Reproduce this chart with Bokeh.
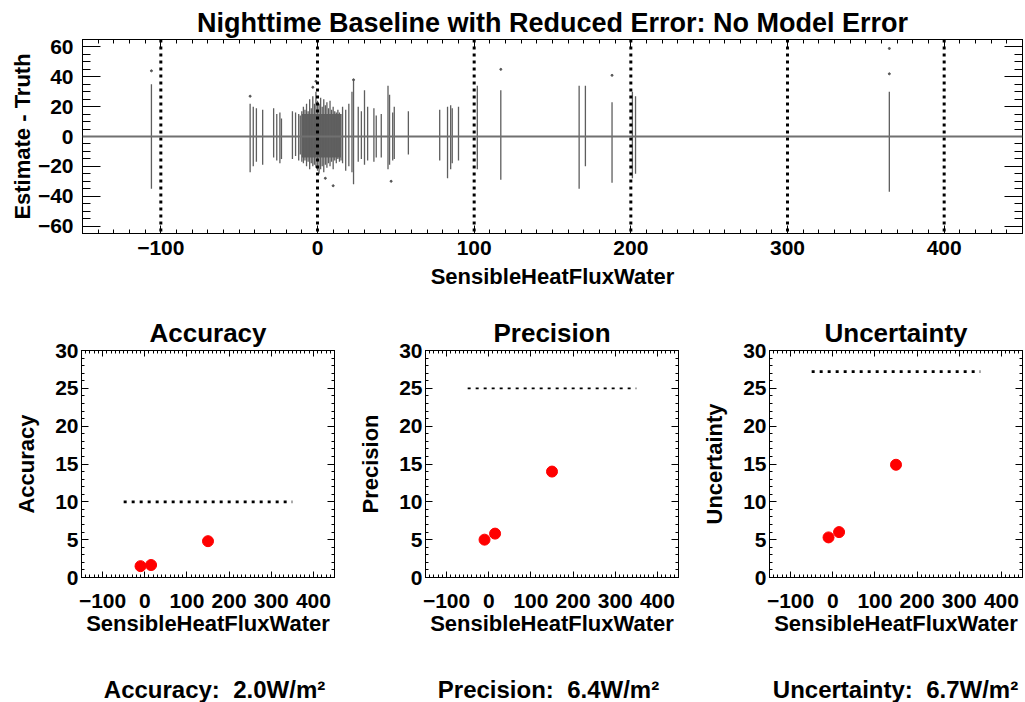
from bokeh.plotting import figure
from bokeh.layouts import column, row
from bokeh.models import LinearAxis, Span, SingleIntervalTicker, CustomLabelingPolicy
from bokeh.core.properties import value
from bokeh.embed import file_html
from bokeh.resources import INLINE

# ---------------- data ----------------
TITLE = "Nighttime Baseline with Reduced Error: No Model Error"
X_LABEL = "SensibleHeatFluxWater"
Y_LABEL_TOP = "Estimate - Truth"

# vertical strips of (estimate - truth) residuals at each flux value
strip_x = [-106, -43, -41, -39, -35, -28, -26, -24, -23, -16, -14, -12, -11,
           -10, -9, -8, -7, -6, -5, -4, -3, -2, -1, 0, 1, 2, 3, 4, 5, 6, 7, 8,
           9, 10, 11, 12, 13, 14, 15, 16, 18, 20, 22, 23, 26, 28, 30, 32, 36,
           37.5, 40.7, 45, 46, 48, 49, 58, 78, 83, 85, 86, 90, 102, 117, 167,
           171, 188, 201, 203, 365]
strip_lo = [-35, -24, -20, -17, -19, -14, -16, -18, -15, -15, -13, -16, -12,
            -17, -18, -16, -20, -17, -22, -18, -20, -19, -21, -23, -25, -22, -20, -24, -19, -21, -18, -20,
            -17, -22, -16, -18, -15, -17, -16, -18, -23, -20, -24, -32, -17, -15, -19, -16, -17,
            -14, -14, -22, -19, -16, -15, -12, -16, -28, -22, -18, -16, -22, -29, -35,
            -20, -31, -28, -25, -37]
strip_hi = [35, 22, 20, 19, 18, 19, 15, 16, 12, 17, 16, 15, 14,
            17, 20, 18, 22, 17, 25, 19, 27, 22, 30, 24, 22, 26, 20, 25, 21, 23, 19, 24,
            18, 20, 17, 16, 18, 16, 15, 20, 18, 22, 30, 38, 20, 17, 31, 20, 19,
            14, 15, 34, 28, 16, 20, 17, 18, 20, 21, 19, 20, 34, 31, 34,
            34, 23, 30, 27, 30]
core_left = [-10]
core_right = [15]
core_bottom = [-14]
core_top = [15]
outlier_x = [-106, -43, -1, -3, 23, 117, 188, 365, 365, 47, 10, 5]
outlier_y = [44, 27, 37, 33, 38, 45, 41, 42, 59, -30, -33, -28]
ref_lines_x = [-100, 0, 100, 200, 300, 400]

bin_x = [-10, 15, 150]
accuracy = [1.5, 1.65, 4.8]
precision = [5.0, 5.8, 14.0]
uncertainty = [5.3, 6.0, 14.9]
req_x0 = [-50]
req_x1 = [350]
acc_req = [10.0]
prec_req = [25.0]
unc_req = [27.2]
panel_names = ["Accuracy", "Precision", "Uncertainty"]
summary_values = [2.0, 6.4, 6.7]

FONT = "Liberation Sans"
NO_LABELS = CustomLabelingPolicy(code="return []")


def style_axis(ax, tick_in, minor_in, label_px="21px", standoff=8):
    ax.major_tick_in = tick_in
    ax.major_tick_out = 0
    ax.minor_tick_in = minor_in
    ax.minor_tick_out = 0
    ax.axis_line_color = "black"
    ax.major_tick_line_color = "black"
    ax.minor_tick_line_color = "black"
    ax.major_label_text_font = FONT
    ax.major_label_text_font_style = "bold"
    ax.major_label_text_font_size = label_px
    ax.major_label_text_color = "black"
    ax.major_label_standoff = standoff
    ax.axis_label_text_font = FONT
    ax.axis_label_text_font_style = "bold"
    ax.axis_label_text_font_size = "22px"
    ax.axis_label_text_color = "black"


def mirror(p, side, interval, minors, tick_in, minor_in):
    ax = LinearAxis(ticker=SingleIntervalTicker(interval=interval, num_minor_ticks=minors))
    style_axis(ax, tick_in, minor_in, label_px="0px", standoff=0)
    ax.major_label_policy = NO_LABELS
    p.add_layout(ax, side)


def style_title(p, size, standoff):
    p.title.align = "center"
    p.title.text_font = FONT
    p.title.text_font_style = "bold"
    p.title.text_font_size = size
    p.title.text_color = "black"
    p.title.standoff = standoff


# ---------------- top plot ----------------
top = figure(width=1025, height=298, x_range=(-150, 450), y_range=(-65, 65),
             title=TITLE, output_backend="svg", toolbar_location=None,
             min_border_left=82, min_border_right=3, min_border_top=39,
             min_border_bottom=65)
style_title(top, "27px", 4)
top.grid.visible = False
top.outline_line_color = "black"
top.xaxis.ticker = SingleIntervalTicker(interval=100, num_minor_ticks=10)
top.yaxis.ticker = SingleIntervalTicker(interval=20, num_minor_ticks=4)
style_axis(top.xaxis[0], 8, 4, standoff=7)
style_axis(top.yaxis[0], 18, 8, standoff=9)
top.xaxis.axis_label = X_LABEL
top.xaxis.axis_label_standoff = 6
top.yaxis.axis_label = Y_LABEL_TOP
top.yaxis.axis_label_standoff = 0
mirror(top, "above", 100, 10, 8, 4)
mirror(top, "right", 20, 4, 18, 8)

top.quad(left=core_left, right=core_right, bottom=core_bottom, top=core_top,
         fill_color="#666666", line_color=None)
top.segment(x0=strip_x, y0=strip_lo, x1=strip_x, y1=strip_hi,
            line_color="#5e5e5e", line_width=1.3)
top.scatter(outlier_x, outlier_y, size=2, color="#555555")
for v in ref_lines_x:
    top.add_layout(Span(location=v, dimension="height", line_color="black",
                        line_width=3, line_dash="3 4"))
top.add_layout(Span(location=0, dimension="width", line_color="#707070", line_width=2))


# ---------------- bottom panels ----------------
def make_panel(name, vals, req, width, dash_w):
    p = figure(width=width, height=340, x_range=(-150, 450), y_range=(0, 30),
               title=name, output_backend="svg", toolbar_location=None,
               min_border_left=81, min_border_right=width - 81 - 253,
               min_border_top=52, min_border_bottom=60)
    style_title(p, "26px", 6)
    p.grid.visible = False
    p.outline_line_color = "black"
    p.xaxis.ticker = SingleIntervalTicker(interval=100, num_minor_ticks=10)
    p.yaxis.ticker = SingleIntervalTicker(interval=5, num_minor_ticks=5)
    style_axis(p.xaxis[0], 6, 3, standoff=16)
    style_axis(p.yaxis[0], 7, 3, standoff=3)
    p.xaxis.axis_label = X_LABEL
    p.xaxis.axis_label_standoff = 0
    p.yaxis.axis_label = name
    p.yaxis.axis_label_standoff = 13
    mirror(p, "above", 100, 10, 6, 3)
    mirror(p, "right", 5, 5, 7, 3)
    p.segment(x0=req_x0, y0=req, x1=req_x1, y1=req, line_color="black",
              line_width=dash_w, line_dash="3 5")
    p.scatter(bin_x, vals, size=11, color="red")
    return p


def make_footer(name, val, width, cx):
    f = figure(width=width, height=64, x_range=(0, width), y_range=(0, 64),
               title=None, output_backend="svg", toolbar_location=None,
               x_axis_location=None, y_axis_location=None, min_border=0)
    f.grid.visible = False
    f.outline_line_color = None
    f.text(x=[cx], y=[13], text=[f"{name}:\u00a0 {val:.1f}W/m\u00b2"],
           text_font=value(FONT), text_font_style="bold",
           text_font_size=value("24px"), text_align="center",
           text_baseline="middle", text_color="black")
    return f


p1 = make_panel("Accuracy", accuracy, acc_req, 344, 2.6)
p2 = make_panel("Precision", precision, prec_req, 344, 1.8)
p3 = make_panel("Uncertainty", uncertainty, unc_req, 337, 2.8)

f1 = make_footer(panel_names[0], summary_values[0], 344, 214)
f2 = make_footer(panel_names[1], summary_values[1], 344, 204)
f3 = make_footer(panel_names[2], summary_values[2], 337, 207)

layout = column(top, row(p1, p2, p3, spacing=0), row(f1, f2, f3, spacing=0), spacing=0)
open("out.html", "w").write(file_html(layout, INLINE))
